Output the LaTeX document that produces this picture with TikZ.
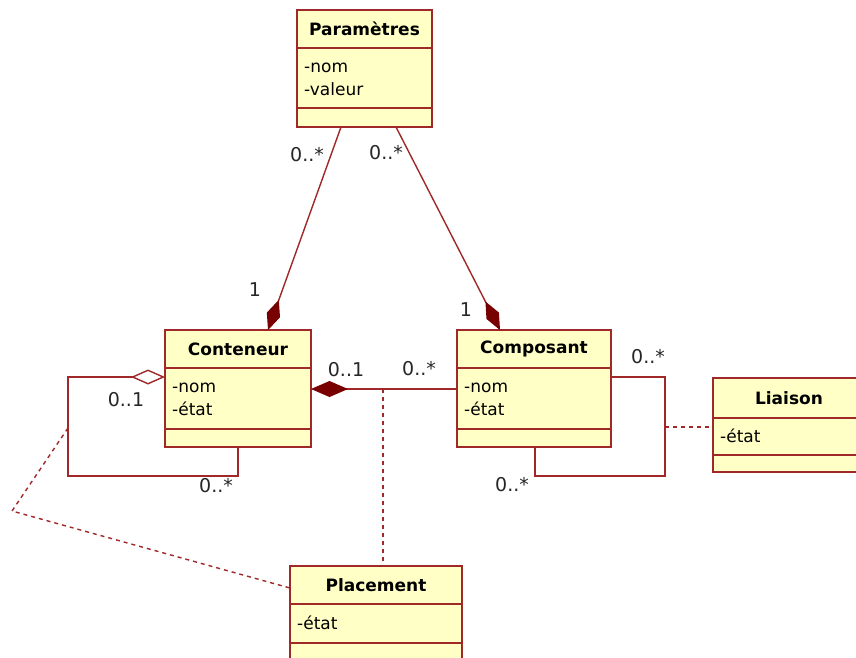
\documentclass[tikz,border=0pt]{standalone}
\usepackage{fontspec}
\setmainfont{DejaVu Sans}
\usetikzlibrary{arrows.meta,calc}
\definecolor{linec}{RGB}{160,40,40}
\definecolor{diamc}{RGB}{120,0,0}
\definecolor{boxfill}{RGB}{255,255,198}
\tikzset{
  cls/.style={draw=linec, fill=boxfill, line width=1.6pt, inner sep=0pt, outer sep=0pt},
  sepline/.style={draw=linec, line width=1.4pt},
  ttl/.style={font=\fontsize{17}{20}\selectfont\bfseries, inner sep=0pt},
  attr/.style={font=\fontsize{17}{20}\selectfont, anchor=west, inner sep=0pt},
  mult/.style={font=\fontsize{19}{22}\selectfont, inner sep=0pt, text=black!85},
  assoc/.style={draw=linec, line width=1.4pt},
  dashline/.style={draw=linec, line width=1.4pt, dash pattern=on 4pt off 4pt},
  comp/.style={-{Diamond[length=32pt,width=14pt,fill=diamc,color=diamc]}},
  compH/.style={-{Diamond[length=37pt,width=16pt,fill=diamc,color=diamc]}},
  aggr/.style={-{Diamond[open,length=34pt,width=15pt,fill=white,color=linec]}},
}
\begin{document}
\begin{tikzpicture}[x=1pt,y=-1pt]
\useasboundingbox (0,0) rectangle (856,657);
\clip (0,0) rectangle (856,657);
\fill[white] (0,0) rectangle (856,657);

% Parametres
\node[cls, minimum width=135pt, minimum height=117pt] (param) at (364.5,68.5) {};
\draw[sepline] (297,48) -- (432,48);
\draw[sepline] (297,108) -- (432,108);
\node[ttl] (paramT) at (364.5,29) {Paramètres};
\node[attr] (paramA1) at (304,68) {-nom};
\node[attr] (paramA2) at (304,89) {-valeur};

% Conteneur
\node[cls, minimum width=146pt, minimum height=117pt] (cont) at (238,388.5) {};
\draw[sepline] (165,368) -- (311,368);
\draw[sepline] (165,429) -- (311,429);
\node[ttl] (contT) at (238,349) {Conteneur};
\node[attr] (contA1) at (172,388) {-nom};
\node[attr] (contA2) at (172,409) {-état};

% Composant
\node[cls, minimum width=154pt, minimum height=117pt] (compo) at (534,388.5) {};
\draw[sepline] (457,368) -- (611,368);
\draw[sepline] (457,429) -- (611,429);
\node[ttl] (compoT) at (534,349) {Composant};
\node[attr] (compoA1) at (464,388) {-nom};
\node[attr] (compoA2) at (464,409) {-état};

% Liaison
\node[cls, minimum width=152pt, minimum height=94pt] (liai) at (789,425) {};
\draw[sepline] (713,418) -- (865,418);
\draw[sepline] (713,455) -- (865,455);
\node[ttl] (liaiT) at (789,398) {Liaison};
\node[attr] (liaiA1) at (720,436) {-état};

% Placement
\node[cls, minimum width=172pt, minimum height=120pt] (plac) at (376,626) {};
\draw[sepline] (290,604) -- (462,604);
\draw[sepline] (290,643) -- (462,643);
\node[ttl] (placT) at (376,585) {Placement};
\node[attr] (placA1) at (297,623) {-état};

% Parametres -> Conteneur / Composant (composition)
\draw[assoc, comp] ($(param.south west)+(44,0)$) -- ($(cont.north west)+(103,0)$);
\draw[assoc, comp] ($(param.south west)+(99,0)$) -- ($(compo.north west)+(43,0)$);
\node[mult] (m1) at (307,155) {0..*};
\node[mult] (m2) at (386,153) {0..*};
\node[mult] (m3) at (255,290) {1};
\node[mult] (m4) at (466,310) {1};

% Conteneur <-> Composant
\draw[assoc, compH] ($(compo.north west)+(0,59)$) -- ($(cont.north east)+(0,59)$);
\coordinate (mid) at (383,389);
\draw[dashline] (mid) -- (plac.north -| mid);
\node[mult] (m5) at (346,370) {0..1};
\node[mult] (m6) at (419,369) {0..*};

% Conteneur self-loop (aggregation)
\coordinate (cl1) at (68,377);
\coordinate (cl2) at (68,476);
\coordinate (cl3) at (238,476);
\draw[assoc, aggr] (cont.south) -- (cl3) -- (cl2) -- (cl1) -- ($(cont.north west)+(0,47)$);
\node[mult] (m7) at (126,400) {0..1};
\node[mult] (m8) at (216,486) {0..*};
\coordinate (cla) at (68,428);
\coordinate (clb) at (12,511);
\draw[dashline] (cla) -- (clb) -- ($(plac.north west)+(0,22)$);

% Composant self-loop
\coordinate (pl1) at (665,377);
\coordinate (pl2) at (665,476);
\coordinate (pl3) at (535,476);
\draw[assoc] ($(compo.north east)+(0,47)$) -- (pl1) -- (pl2) -- (pl3) -- (pl3 |- compo.south);
\node[mult] (m9) at (648,357) {0..*};
\node[mult] (m10) at (512,485) {0..*};
\coordinate (pla) at (665,427);
\draw[dashline] (pla) -- (liai.west |- pla);
\end{tikzpicture}
\end{document}
